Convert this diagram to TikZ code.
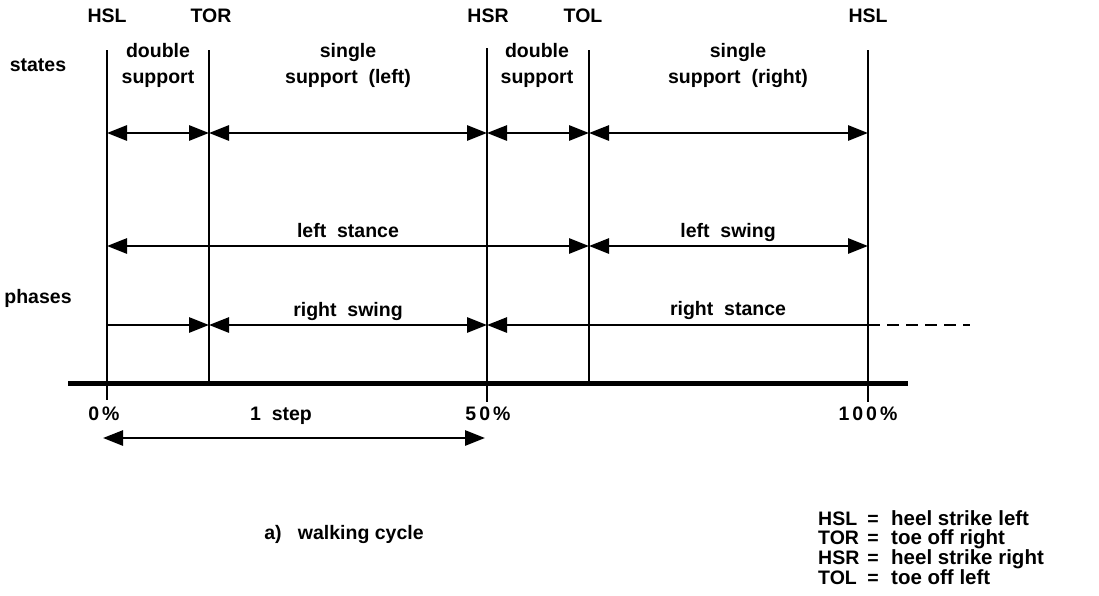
\documentclass[tikz,border=0pt]{standalone}
\usepackage{fontspec}
\setmainfont{Liberation Sans}
\usetikzlibrary{arrows.meta}

\begin{document}
\begin{tikzpicture}[x=1pt,y=-1pt,
  every node/.style={font=\fontsize{19.5}{26}\selectfont\bfseries, inner sep=0pt},
  event/.style={line width=2.8pt},
  axisline/.style={line width=5pt},
  span/.style={line width=2.8pt},
  both/.style={span,{Triangle[length=20pt,width=15pt]}-{Triangle[length=20pt,width=15pt]}},
  toright/.style={span,-{Triangle[length=20pt,width=15pt]}},
  toleft/.style={span,{Triangle[length=20pt,width=15pt]}-},
  lbl/.style={anchor=base, align=center},
  legendtext/.style={anchor=base west, font=\fontsize{20.5}{26}\selectfont\bfseries},
]
\useasboundingbox (0,0) rectangle (1099,595);

% gait events: top and bottom ends of the vertical lines
\coordinate (hslAt) at (107,50);  \coordinate (hslAb) at (107,400);
\coordinate (tort)  at (209,50);  \coordinate (torb)  at (209,383);
\coordinate (hsrt)  at (487,48);  \coordinate (hsrb)  at (487,402);
\coordinate (tolt)  at (589,50);  \coordinate (tolb)  at (589,383);
\coordinate (hslBt) at (868,50);  \coordinate (hslBb) at (868,402);

% rows of the interval arrows
\coordinate (rowS) at (0,133);
\coordinate (rowL) at (0,246);
\coordinate (rowR) at (0,325);

% time axis
\coordinate (ax0) at (68,383);
\coordinate (ax1) at (908,383);
\draw[axisline] (ax0) -- (ax1);

\foreach \e in {hslA,tor,hsr,tol,hslB}
  \draw[event] (\e t) -- (\e b);

% event names
\node[lbl] (nHSLa) at (107,22) {HSL};
\node[lbl] (nTOR)  at (211,22) {TOR};
\node[lbl] (nHSR)  at (488,22) {HSR};
\node[lbl] (nTOL)  at (583,22) {TOL};
\node[lbl] (nHSLb) at (868,22) {HSL};

% row titles
\node[lbl] (states) at (38,71) {states};
\node[lbl] (phases) at (38,303) {phases};

% states
\node[lbl] (ds1) at (158,83) {double\\support};
\node[lbl] (ssl) at (348,83) {single\\support\ \ (left)};
\node[lbl] (ds2) at (537,83) {double\\support};
\node[lbl] (ssr) at (738,83) {single\\support\ \ (right)};

\draw[both] (hslAt |- rowS) -- (tort |- rowS);
\draw[both] (tort |- rowS) -- (hsrt |- rowS);
\draw[both] (hsrt |- rowS) -- (tolt |- rowS);
\draw[both] (tolt |- rowS) -- (hslBt |- rowS);

% phases
\node[lbl] (lst) at (348,237) {left\ \ stance};
\node[lbl] (lsw) at (728,237) {left\ \ swing};
\node[lbl] (rsw) at (348,316) {right\ \ swing};
\node[lbl] (rst) at (728,315) {right\ \ stance};

\draw[both] (hslAt |- rowL) -- (tolt |- rowL);
\draw[both] (tolt |- rowL) -- (hslBt |- rowL);

\draw[toright] (hslAt |- rowR) -- (tort |- rowR);
\draw[both] (tort |- rowR) -- (hsrt |- rowR);
\draw[toleft] (hsrt |- rowR) -- (hslBt |- rowR);
\coordinate (dashend) at (970,325);
\draw[span, dash pattern=on 12pt off 7pt] (hslBt |- rowR) -- (dashend);

% percentages and one step
\node[lbl] (p0)   at (104,420) {0\kern3pt\%};
\node[lbl] (p50)  at (488,420) {5\kern3pt0\kern3pt\%};
\node[lbl] (p100) at (868,420) {1\kern3pt0\kern3pt0\kern3pt\%};
\node[lbl] (step) at (281,420) {1\ \ step};
\coordinate (st0) at (103,438);
\coordinate (st1) at (485,438);
\draw[both] (st0) -- (st1);

% caption
\node[lbl] (cap) at (344,539) {a)\ \ \ walking cycle};

% legend: abbreviation, equals sign, meaning
\foreach \i/\ab/\txt in {0/HSL/heel strike left,
                         1/TOR/toe off right,
                         2/HSR/heel strike right,
                         3/TOL/toe off left}{
  \node[anchor=base west] (lab\i) at (818,{525+19.7*\i}) {\ab};
  \node[lbl]              (leq\i) at (873,{525+19.7*\i}) {=};
  \node[legendtext]       (ltx\i) at (891,{525+19.7*\i}) {\txt};
}
\end{tikzpicture}
\end{document}
